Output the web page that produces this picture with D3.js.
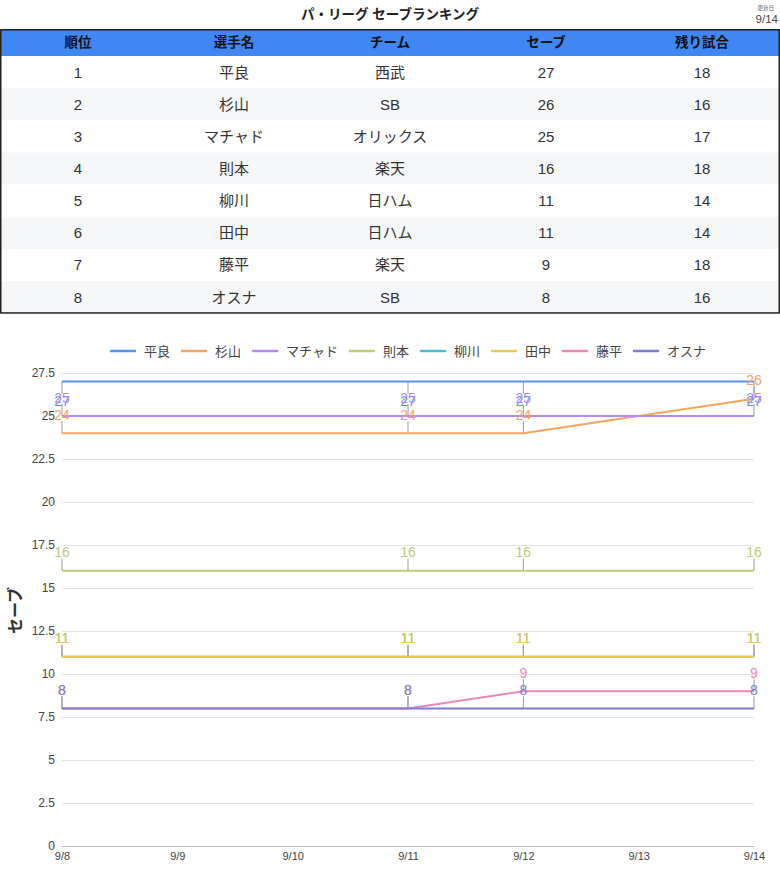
<!DOCTYPE html>
<html>
<head>
<meta charset="utf-8">
<script src="https://cdn.jsdelivr.net/npm/d3@7"></script>
<style>
  body { margin: 0; background: #fff; }
  svg text { font-family: "Liberation Sans", Arial, "Noto Sans CJK JP", sans-serif; }
</style>
</head>
<body>
<div id="chart"></div>
<script>
// table
const tableHeaders = ["順位", "選手名", "チーム", "セーブ", "残り試合"];
const ranks = [1, 2, 3, 4, 5, 6, 7, 8];
const players = ["平良", "杉山", "マチャド", "則本", "柳川", "田中", "藤平", "オスナ"];
const teams = ["西武", "SB", "オリックス", "楽天", "日ハム", "日ハム", "楽天", "SB"];
const saves = [27, 26, 25, 16, 11, 11, 9, 8];
const remaining = [18, 16, 17, 18, 14, 14, 18, 16];

// line chart
const dates = ["2023-09-08", "2023-09-11", "2023-09-12", "2023-09-14"];
const taira = [27, 27, 27, 27];
const sugiyama = [24, 24, 24, 26];
const machado = [25, 25, 25, 25];
const norimoto = [16, 16, 16, 16];
const yanagawa = [11, 11, 11, 11];
const tanaka = [11, 11, 11, 11];
const fujihira = [8, 8, 9, 9];
const osuna = [8, 8, 8, 8];
const yTicks = [0, 2.5, 5, 7.5, 10, 12.5, 15, 17.5, 20, 22.5, 25, 27.5];

const colors = ["#5a93f5", "#f9a45f", "#b68af3", "#bccd75", "#42c1d6", "#eec850", "#ef85bd", "#7e7ccf"];
const seriesValues = [taira, sugiyama, machado, norimoto, yanagawa, tanaka, fujihira, osuna];

const W = 780, H = 878;
const svg = d3.select("#chart").append("svg")
  .attr("width", W)
  .attr("height", H);

// header
svg.append("text")
  .attr("x", 390).attr("y", 14)
  .attr("text-anchor", "middle").attr("dominant-baseline", "central")
  .attr("font-size", 13.5).attr("font-weight", "bold").attr("fill", "#222")
  .text("パ・リーグ セーブランキング");
svg.append("text")
  .attr("x", 774).attr("y", 8)
  .attr("text-anchor", "end").attr("dominant-baseline", "central")
  .attr("font-size", 5.5).attr("fill", "#666")
  .text("更新日");
svg.append("text")
  .attr("x", 778).attr("y", 18.5)
  .attr("text-anchor", "end").attr("dominant-baseline", "central")
  .attr("font-size", 11.5).attr("fill", "#444")
  .text(dates[dates.length - 1].slice(5).replace(/^0/, "").replace("-", "/"));

// ranking table
const tableTop = 29, headH = 27, rowH = 32.15;
const colX = d3.scaleBand().domain(d3.range(tableHeaders.length)).range([0, W]);
const rows = ranks.map((r, i) => [r, players[i], teams[i], saves[i], remaining[i]]);

const table = svg.append("g");
table.selectAll("rect.row")
  .data(rows)
  .join("rect")
  .attr("class", "row")
  .attr("x", 0).attr("y", (d, i) => tableTop + headH + i * rowH)
  .attr("width", W).attr("height", rowH)
  .attr("fill", (d, i) => i % 2 ? "#f6f7f9" : "#fff");
table.append("rect")
  .attr("x", 0).attr("y", tableTop)
  .attr("width", W).attr("height", headH)
  .attr("fill", "#4187f4");
table.selectAll("text.head")
  .data(tableHeaders)
  .join("text")
  .attr("class", "head")
  .attr("x", (d, i) => colX(i) + colX.bandwidth() / 2)
  .attr("y", tableTop + headH / 2)
  .attr("text-anchor", "middle").attr("dominant-baseline", "central")
  .attr("font-size", 13.5).attr("font-weight", "bold").attr("fill", "#111")
  .text(d => d);
rows.forEach((row, i) => {
  table.selectAll(null)
    .data(row)
    .join("text")
    .attr("x", (d, j) => colX(j) + colX.bandwidth() / 2)
    .attr("y", tableTop + headH + i * rowH + rowH / 2)
    .attr("text-anchor", "middle").attr("dominant-baseline", "central")
    .attr("font-size", 15).attr("fill", "#333")
    .text(d => d);
});
table.append("rect")
  .attr("x", 0.75).attr("y", tableTop + 0.75)
  .attr("width", W - 1.5).attr("height", headH + rows.length * rowH - 1)
  .attr("fill", "none").attr("stroke", "#222").attr("stroke-width", 1.5);

// line chart
const margin = { left: 62, right: 26, top: 373, bottom: 32 };
const parse = d3.timeParse("%Y-%m-%d");
const xDates = dates.map(parse);
const x = d3.scaleTime()
  .domain(d3.extent(xDates))
  .range([margin.left, W - margin.right]);
const y = d3.scaleLinear()
  .domain([0, 27.5])
  .range([H - margin.bottom, margin.top]);

const yAxis = svg.append("g")
  .attr("transform", `translate(${margin.left},0)`)
  .call(d3.axisLeft(y).tickValues(yTicks).tickSize(-(W - margin.left - margin.right)).tickPadding(7)
    .tickFormat(d => d));
yAxis.select(".domain").remove();
yAxis.selectAll("line").attr("stroke", d => d === 0 ? "#bbb" : "#e2e2e2");
yAxis.selectAll("text").attr("font-size", 12).attr("fill", "#444");

const xAxis = svg.append("g")
  .attr("transform", `translate(0,${H - margin.bottom})`)
  .call(d3.axisBottom(x).ticks(d3.timeDay.every(1)).tickSize(0).tickPadding(6)
    .tickFormat(d3.timeFormat("%-m/%-d")));
xAxis.select(".domain").remove();
xAxis.selectAll("text").attr("font-size", 11).attr("fill", "#444");

svg.append("text")
  .attr("transform", `translate(15,${(margin.top + H - margin.bottom) / 2 + 1}) rotate(-90)`)
  .attr("text-anchor", "middle").attr("dominant-baseline", "central")
  .attr("font-size", 16).attr("font-weight", "bold").attr("fill", "#333")
  .text("セーブ");

// legend
const legend = svg.append("g");
let lx = 0;
players.forEach((name, i) => {
  const item = legend.append("g").attr("transform", `translate(${lx},0)`);
  item.append("line")
    .attr("x1", 0).attr("x2", 24).attr("y1", 351).attr("y2", 351)
    .attr("stroke", colors[i]).attr("stroke-width", 2.5).attr("stroke-linecap", "round");
  const t = item.append("text")
    .attr("x", 33).attr("y", 351)
    .attr("dominant-baseline", "central")
    .attr("font-size", 13).attr("fill", "#444")
    .text(name);
  lx += 33 + t.node().getComputedTextLength() + 12;
});
legend.attr("transform", `translate(${111},0)`);

// labels: above the point, flipped below when it would leave the plot
const labelOff = 18.5, connLen = 12;
const points = [];
seriesValues.forEach((vals, s) => {
  vals.forEach((v, k) => {
    const px = x(xDates[k]), py = y(v);
    const dir = py - labelOff - 7 < margin.top - 2 ? 1 : -1;
    points.push({ s, v, px, py, dir });
  });
});

svg.append("g").selectAll("line")
  .data(points)
  .join("line")
  .attr("x1", d => d.px).attr("x2", d => d.px)
  .attr("y1", d => d.py).attr("y2", d => d.py + d.dir * connLen)
  .attr("stroke", "#999").attr("stroke-width", 1);

const line = d3.line()
  .x((d, k) => x(xDates[k]))
  .y(d => y(d));
svg.append("g").selectAll("path")
  .data(seriesValues)
  .join("path")
  .attr("d", d => line(d))
  .attr("fill", "none")
  .attr("stroke", (d, i) => colors[i])
  .attr("stroke-width", 2);

svg.append("g").selectAll("text")
  .data(points)
  .join("text")
  .attr("x", d => d.px)
  .attr("y", d => d.py + d.dir * (d.dir > 0 ? labelOff + 1 : labelOff))
  .attr("text-anchor", "middle").attr("dominant-baseline", "central")
  .attr("font-size", 14).attr("fill", d => colors[d.s])
  .text(d => d.v);
</script>
</body>
</html>
